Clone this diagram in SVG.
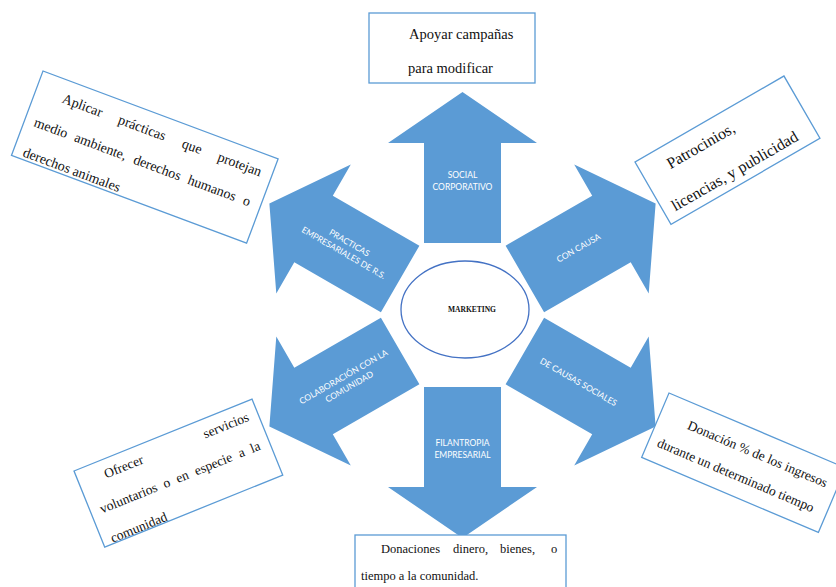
<svg xmlns="http://www.w3.org/2000/svg" xmlns:xlink="http://www.w3.org/1999/xlink" width="836" height="587" viewBox="0 0 836 587">
<style>
.arr{fill:#5B9BD5;}
.lbl{font-family:Lato,"Open Sans","Liberation Sans",sans-serif;font-size:8.5px;fill:#fff;text-anchor:middle;}
.box{fill:#fff;stroke:#5B9BD5;stroke-width:1.3;}
.t{font-family:"Liberation Serif","Times New Roman",serif;fill:#111;}
</style>
<defs>
<path id="arrow" d="M-38.5,-72 L-38.5,-172 L-74.5,-172 L0,-223 L74.5,-172 L38.5,-172 L38.5,-72 Z"/>
</defs>
<rect width="836" height="587" fill="#fff"/>

<g id="arrow-social">
<use xlink:href="#arrow" href="#arrow" class="arr" transform="translate(462.5,315)"/>
<text class="lbl" x="462.5" y="178">SOCIAL</text>
<text class="lbl" x="462.5" y="189.5">CORPORATIVO</text>
</g>
<g id="arrow-causa">
<use xlink:href="#arrow" href="#arrow" class="arr" transform="translate(462.5,315) rotate(60)"/>
<text class="lbl" transform="translate(578.5,248) rotate(-30)" x="0" y="3">CON CAUSA</text>
</g>
<g id="arrow-causas-sociales">
<use xlink:href="#arrow" href="#arrow" class="arr" transform="translate(462.5,315) rotate(120)"/>
<text class="lbl" transform="translate(578.5,382) rotate(30)" x="0" y="3">DE CAUSAS SOCIALES</text>
</g>
<g id="arrow-filantropia">
<use xlink:href="#arrow" href="#arrow" class="arr" transform="translate(462.5,315) rotate(180)"/>
<text class="lbl" x="462.5" y="446">FILANTROPIA</text>
<text class="lbl" x="462.5" y="457.5">EMPRESARIAL</text>
</g>
<g id="arrow-colaboracion">
<use xlink:href="#arrow" href="#arrow" class="arr" transform="translate(462.5,315) rotate(240)"/>
<g transform="translate(346.5,382) rotate(-30)">
<text class="lbl" x="0" y="-3">COLABORACIÓN CON LA</text>
<text class="lbl" x="0" y="8.5">COMUNIDAD</text>
</g>
</g>
<g id="arrow-practicas">
<use xlink:href="#arrow" href="#arrow" class="arr" transform="translate(462.5,315) rotate(300)"/>
<g transform="translate(346.5,248) rotate(30)">
<text class="lbl" x="0" y="-3">PRACTICAS</text>
<text class="lbl" x="0" y="8.5">EMPRESARIALES DE R.S.</text>
</g>
</g>

<g id="marketing">
<ellipse cx="465" cy="309.5" rx="64" ry="48.5" fill="#fff" stroke="#4472C4" stroke-width="1.3"/>
<text class="t" x="472" y="311.5" font-size="7.5" text-anchor="middle" font-weight="bold">MARKETING</text>
</g>

<g id="box-apoyar">
<rect class="box" x="369" y="13" width="166" height="70"/>
<text class="t" font-size="14.5" x="409" y="39">Apoyar campañas</text>
<text class="t" font-size="14.5" x="408" y="73">para modificar</text>
</g>

<g id="box-aplicar" transform="translate(43,71) rotate(20.5)">
<rect class="box" x="0" y="0" width="251" height="90"/>
<text class="t" font-size="14" y="23"><tspan x="28">Aplicar</tspan><tspan x="88">prácticas</tspan><tspan x="156">que</tspan><tspan x="194">protejan</tspan></text>
<text class="t" font-size="14" y="55"><tspan x="10">medio</tspan><tspan x="53">ambiente,</tspan><tspan x="116">derechos</tspan><tspan x="174">humanos</tspan><tspan x="233">o</tspan></text>
<text class="t" font-size="14" x="10" y="87">derechos animales</text>
</g>

<g id="box-patrocinios" transform="translate(635,162) rotate(-30)">
<rect class="box" x="0" y="0" width="172" height="72"/>
<text class="t" font-size="16" x="27" y="24">Patrocinios,</text>
<text class="t" font-size="16" x="10" y="63">licencias, y publicidad</text>
</g>

<g id="box-ofrecer" transform="translate(74,471) rotate(-22)">
<rect class="box" x="0" y="0" width="192" height="82"/>
<text class="t" font-size="13.5" y="19"><tspan x="27">Ofrecer</tspan><tspan x="182" text-anchor="end">servicios</tspan></text>
<text class="t" font-size="13.5" y="50"><tspan x="10">voluntarios</tspan><tspan x="78">o</tspan><tspan x="92">en</tspan><tspan x="112">especie</tspan><tspan x="159">a</tspan><tspan x="172">la</tspan></text>
<text class="t" font-size="13.5" x="9" y="81">comunidad</text>
</g>

<g id="box-donacion" transform="translate(669,393) rotate(23)">
<rect class="box" x="0" y="0" width="192" height="70"/>
<text class="t" font-size="13.5" x="30" y="26">Donación % de los ingresos</text>
<text class="t" font-size="13.5" x="9" y="54">durante un determinado tiempo</text>
</g>

<g id="box-donaciones">
<rect class="box" x="355" y="535" width="211" height="70"/>
<text class="t" font-size="12.5" y="553"><tspan x="381">Donaciones</tspan><tspan x="453">dinero,</tspan><tspan x="500">bienes,</tspan><tspan x="551">o</tspan></text>
<text class="t" font-size="12.5" x="361" y="580">tiempo a la comunidad.</text>
</g>

<g id="connectors"/>
</svg>
